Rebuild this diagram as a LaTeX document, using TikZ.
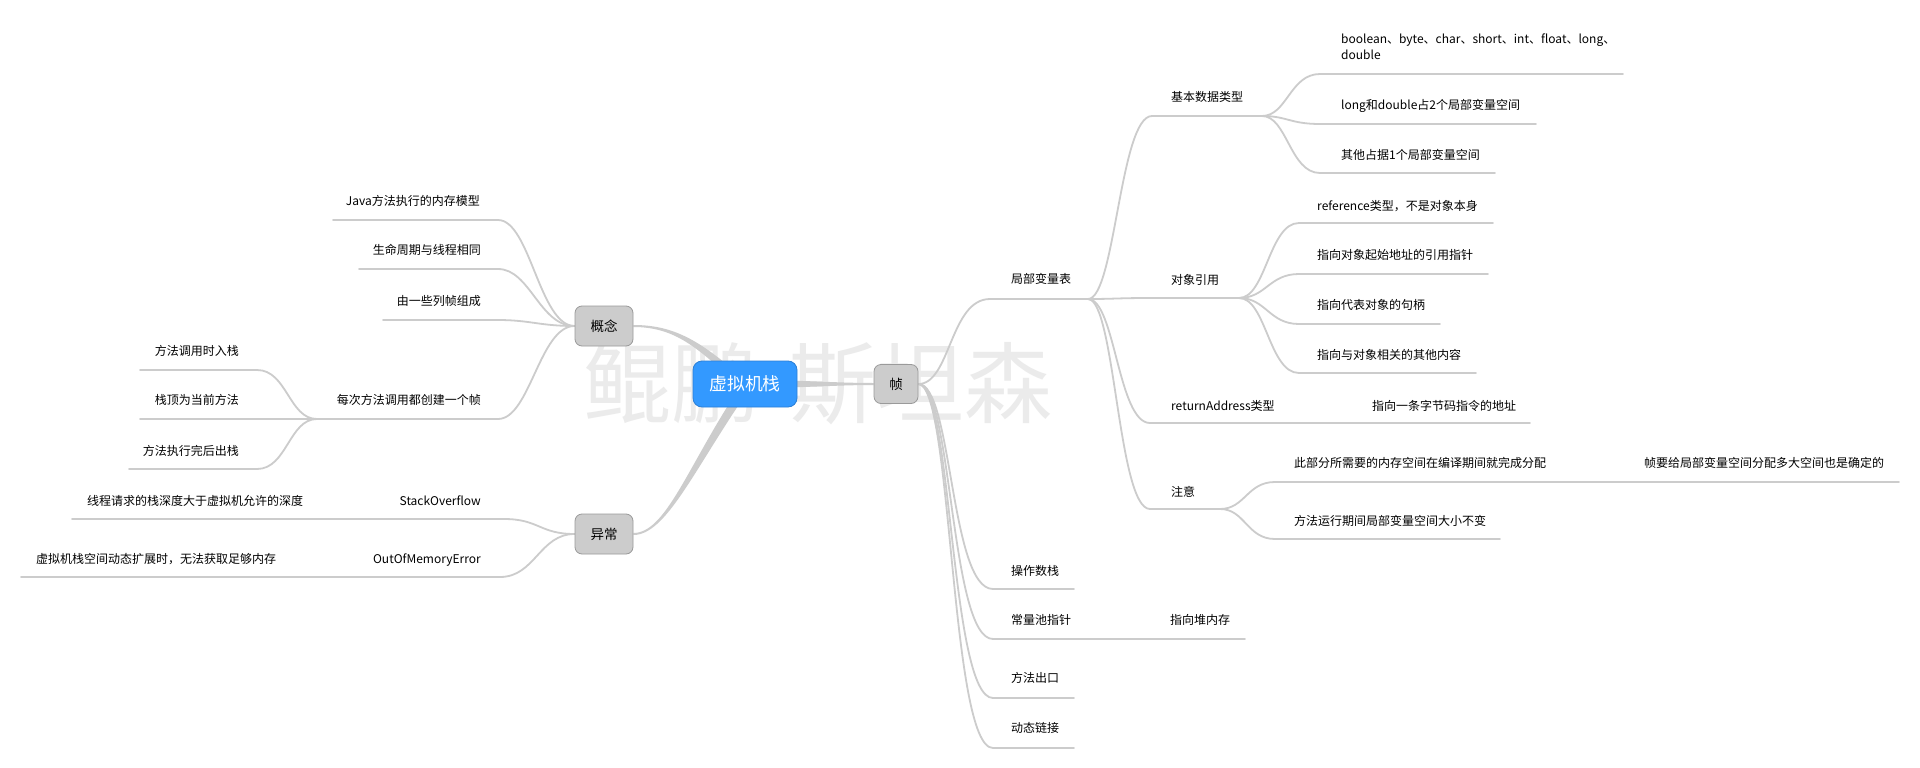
\documentclass[tikz,border=0pt]{standalone}
\usepackage{fontspec}
\setmainfont{Noto Sans CJK SC}
\usetikzlibrary{calc,backgrounds}
\definecolor{lc}{HTML}{CCCCCC}
\definecolor{gfill}{HTML}{CCCCCC}
\definecolor{gdraw}{HTML}{9A9A9A}
\definecolor{bfill}{HTML}{3399FF}
\definecolor{bdraw}{HTML}{2B7FD6}
\definecolor{wm}{HTML}{EBEBEB}
\begin{document}
\begin{tikzpicture}[x=1pt,y=-1pt,
  lbl/.style={inner sep=0pt, font=\fontsize{12}{16}\selectfont, text height=10.5pt, text depth=1.5pt},
  lblw/.style={lbl, anchor=west},
  lble/.style={lbl, anchor=east},
  branch/.style={draw=lc, line width=1.8pt, line cap=round},
  taper/.style={fill=lc, draw=none},
  topic/.style={draw=gdraw, fill=gfill, rounded corners=7pt, line width=0.8pt, inner sep=0pt, font=\fontsize{13.5}{16}\selectfont},
  rootbox/.style={draw=bdraw, fill=bfill, rounded corners=9pt, line width=0.8pt, inner sep=0pt, minimum width=104pt, minimum height=46pt, text=white, font=\fontsize{17.8}{20}\selectfont},
]
\useasboundingbox (0,0) rectangle (1920,768);

% main nodes
\node[rootbox] (root) at (745,384) {虚拟机栈};
\node[topic, minimum width=44pt, minimum height=39pt] (zn) at (896,384) {帧};
\node[topic, minimum width=58pt, minimum height=40pt] (gn) at (604,326) {概念};
\node[topic, minimum width=58pt, minimum height=40pt] (yc) at (604,534) {异常};

% ---------- right side labels ----------
\node[lblw] (l1) at (1011,279) {局部变量表};
\node[lblw] (l1a) at (1171,97) {基本数据类型};
\node[inner sep=0pt, anchor=north west, align=left, font=\fontsize{12}{16}\selectfont] (l1a1) at (1341,34) {boolean、byte、char、short、int、float、long、\\double};
\node[lblw] (l1a2) at (1341,105) {long和double占2个局部变量空间};
\node[lblw] (l1a3) at (1341,155) {其他占据1个局部变量空间};
\node[lblw] (l1b) at (1171,280) {对象引用};
\node[lblw] (l1b1) at (1317,206) {reference类型，不是对象本身};
\node[lblw] (l1b2) at (1317,255) {指向对象起始地址的引用指针};
\node[lblw] (l1b3) at (1317,305) {指向代表对象的句柄};
\node[lblw] (l1b4) at (1317,355) {指向与对象相关的其他内容};
\node[lblw] (l1c) at (1171,406) {returnAddress类型};
\node[lblw] (l1c1) at (1372,406) {指向一条字节码指令的地址};
\node[lblw] (l1d) at (1171,492) {注意};
\node[lblw] (l1d1) at (1294,463) {此部分所需要的内存空间在编译期间就完成分配};
\node[lblw] (l1d1a) at (1644,463) {帧要给局部变量空间分配多大空间也是确定的};
\node[lblw] (l1d2) at (1294,521) {方法运行期间局部变量空间大小不变};
\node[lblw] (l2) at (1011,571) {操作数栈};
\node[lblw] (l3) at (1011,620) {常量池指针};
\node[lblw] (l3a) at (1170,620) {指向堆内存};
\node[lblw] (l4) at (1011,678) {方法出口};
\node[lblw] (l5) at (1011,728) {动态链接};

% ---------- left side labels ----------
\node[lble] (k1) at (480,201) {Java方法执行的内存模型};
\node[lble] (k2) at (481,250) {生命周期与线程相同};
\node[lble] (k3) at (481,301) {由一些列帧组成};
\node[lble] (k4) at (481,400) {每次方法调用都创建一个帧};
\node[lble] (k4a) at (239,351) {方法调用时入栈};
\node[lble] (k4b) at (239,400) {栈顶为当前方法};
\node[lble] (k4c) at (239,451) {方法执行完后出栈};
\node[lble] (y1) at (481,501) {StackOverflow};
\node[lblw] (y1a) at (87,501) {线程请求的栈深度大于虚拟机允许的深度};
\node[lble] (y2) at (481,559) {OutOfMemoryError};
\node[lblw] (y2a) at (36,559) {虚拟机栈空间动态扩展时，无法获取足够内存};

% ---------- underline coordinates ----------
\coordinate (l1s) at (990,299);   \coordinate (l1e) at (1088,299);
\coordinate (l1as) at (1152,116); \coordinate (l1ae) at (1262,116);
\coordinate (l1a1s) at (1320,74); \coordinate (l1a1e) at (1623,74);
\coordinate (l1a2s) at (1320,124); \coordinate (l1a2e) at (1536,124);
\coordinate (l1a3s) at (1320,173); \coordinate (l1a3e) at (1495,173);
\coordinate (l1bs) at (1150,298); \coordinate (l1be) at (1239,298);
\coordinate (l1b1s) at (1299,223); \coordinate (l1b1e) at (1493,223);
\coordinate (l1b2s) at (1299,274); \coordinate (l1b2e) at (1488,274);
\coordinate (l1b3s) at (1299,324); \coordinate (l1b3e) at (1440,324);
\coordinate (l1b4s) at (1299,373); \coordinate (l1b4e) at (1476,373);
\coordinate (l1cs) at (1150,423); \coordinate (l1ce) at (1290,423);
\coordinate (l1c1s) at (1352,423); \coordinate (l1c1e) at (1530,423);
\coordinate (l1ds) at (1150,509); \coordinate (l1de) at (1220,509);
\coordinate (l1d1s) at (1275,482); \coordinate (l1d1e) at (1600,482);
\coordinate (l1d1as) at (1625,482); \coordinate (l1d1ae) at (1899,482);
\coordinate (l1d2s) at (1275,539); \coordinate (l1d2e) at (1500,539);
\coordinate (l2s) at (993,589); \coordinate (l2e) at (1074,589);
\coordinate (l3s) at (993,639); \coordinate (l3e) at (1100,639);
\coordinate (l3as) at (1150,639); \coordinate (l3ae) at (1245,639);
\coordinate (l4s) at (993,698); \coordinate (l4e) at (1074,698);
\coordinate (l5s) at (993,748); \coordinate (l5e) at (1074,748);

\coordinate (k1s) at (333,220); \coordinate (k1e) at (498,220);
\coordinate (k2s) at (359,269); \coordinate (k2e) at (498,269);
\coordinate (k3s) at (383,320); \coordinate (k3e) at (498,320);
\coordinate (k4s) at (317,419); \coordinate (k4e) at (498,419);
\coordinate (k4as) at (140,370); \coordinate (k4ae) at (257,370);
\coordinate (k4bs) at (140,419); \coordinate (k4be) at (257,419);
\coordinate (k4cs) at (129,469); \coordinate (k4ce) at (257,469);
\coordinate (y1s) at (385,519); \coordinate (y1e) at (504,519);
\coordinate (y1as) at (72,519); \coordinate (y1ae) at (320,519);
\coordinate (y2s) at (360,577); \coordinate (y2e) at (500,577);
\coordinate (y2as) at (21,577); \coordinate (y2ae) at (295,577);

\begin{pgfonlayer}{background}
\fill[white] (0,0) rectangle (1920,768);
\node[inner sep=0pt, text=wm, font=\fontsize{88}{90}\selectfont] (wmark) at (818,384) {鲲鹏\hspace{30pt}斯坦森};

% tapered main connectors
\fill[taper] ($(gn.east)+(0,-1)$) .. controls +(42,0) and +(-43,-38) .. ($(root.center)+(0,-4)$)
  -- ($(root.center)+(-6,2)$) .. controls +(-41,-38) and +(42,0) .. ($(gn.east)+(0,1)$) -- cycle;
\fill[taper] ($(yc.east)+(0,1)$) .. controls +(32,0) and +(-50.7,74.5) .. ($(root.center)+(-1.3,13.5)$)
  -- ($(root.center)+(-8.7,8.5)$) .. controls +(-49.3,75.5) and +(32,0) .. ($(yc.east)+(0,-1)$) -- cycle;
\fill[taper] ($(root.center)+(0,-4)$) .. controls +(60,0) and +(-40,0) .. ($(zn.west)+(0,-1)$)
  -- ($(zn.west)+(0,1)$) .. controls +(-40,0) and +(60,0) .. ($(root.center)+(0,4)$) -- cycle;

% right branches
\draw[branch] (zn.east) .. controls +(32,0) and +(-40,0) .. (l1s) -- (l1e);
\draw[branch] (l1e) .. controls +(27,0) and +(-32,0) .. (l1as) -- (l1ae);
\draw[branch] (l1ae) .. controls +(25,0) and +(-30,0) .. (l1a1s) -- (l1a1e);
\draw[branch] (l1ae) .. controls +(25,0) and +(-30,0) .. (l1a2s) -- (l1a2e);
\draw[branch] (l1ae) .. controls +(25,0) and +(-30,0) .. (l1a3s) -- (l1a3e);
\draw[branch] (l1e) .. controls +(27,0) and +(-32,0) .. (l1bs) -- (l1be);
\draw[branch] (l1be) .. controls +(27,0) and +(-30,0) .. (l1b1s) -- (l1b1e);
\draw[branch] (l1be) .. controls +(27,0) and +(-30,0) .. (l1b2s) -- (l1b2e);
\draw[branch] (l1be) .. controls +(27,0) and +(-30,0) .. (l1b3s) -- (l1b3e);
\draw[branch] (l1be) .. controls +(27,0) and +(-30,0) .. (l1b4s) -- (l1b4e);
\draw[branch] (l1e) .. controls +(27,0) and +(-32,0) .. (l1cs) -- (l1ce);
\draw[branch] (l1ce) -- (l1c1s) -- (l1c1e);
\draw[branch] (l1e) .. controls +(27,0) and +(-32,0) .. (l1ds) -- (l1de);
\draw[branch] (l1de) .. controls +(25,0) and +(-28,0) .. (l1d1s) -- (l1d1e);
\draw[branch] (l1d1e) -- (l1d1as) -- (l1d1ae);
\draw[branch] (l1de) .. controls +(25,0) and +(-28,0) .. (l1d2s) -- (l1d2e);
\draw[branch] (zn.east) .. controls +(34,0) and +(-43,0) .. (l2s) -- (l2e);
\draw[branch] (zn.east) .. controls +(34,0) and +(-43,0) .. (l3s) -- (l3e);
\draw[branch] (l3e) -- (l3as) -- (l3ae);
\draw[branch] (zn.east) .. controls +(34,0) and +(-43,0) .. (l4s) -- (l4e);
\draw[branch] (zn.east) .. controls +(34,0) and +(-43,0) .. (l5s) -- (l5e);

% left branches
\draw[branch] (gn.west) .. controls +(-35,0) and +(32,0) .. (k1e) -- (k1s);
\draw[branch] (gn.west) .. controls +(-35,0) and +(32,0) .. (k2e) -- (k2s);
\draw[branch] (gn.west) .. controls +(-35,0) and +(32,0) .. (k3e) -- (k3s);
\draw[branch] (gn.west) .. controls +(-35,0) and +(32,0) .. (k4e) -- (k4s);
\draw[branch] (k4s) .. controls +(-28,0) and +(30,0) .. (k4ae) -- (k4as);
\draw[branch] (k4s) -- (k4be) -- (k4bs);
\draw[branch] (k4s) .. controls +(-28,0) and +(30,0) .. (k4ce) -- (k4cs);
\draw[branch] (yc.west) .. controls +(-35,0) and +(35,0) .. (y1e) -- (y1s);
\draw[branch] (y1s) -- (y1ae) -- (y1as);
\draw[branch] (yc.west) .. controls +(-35,0) and +(35,0) .. (y2e) -- (y2s);
\draw[branch] (y2s) -- (y2ae) -- (y2as);
\end{pgfonlayer}
\end{tikzpicture}
\end{document}
